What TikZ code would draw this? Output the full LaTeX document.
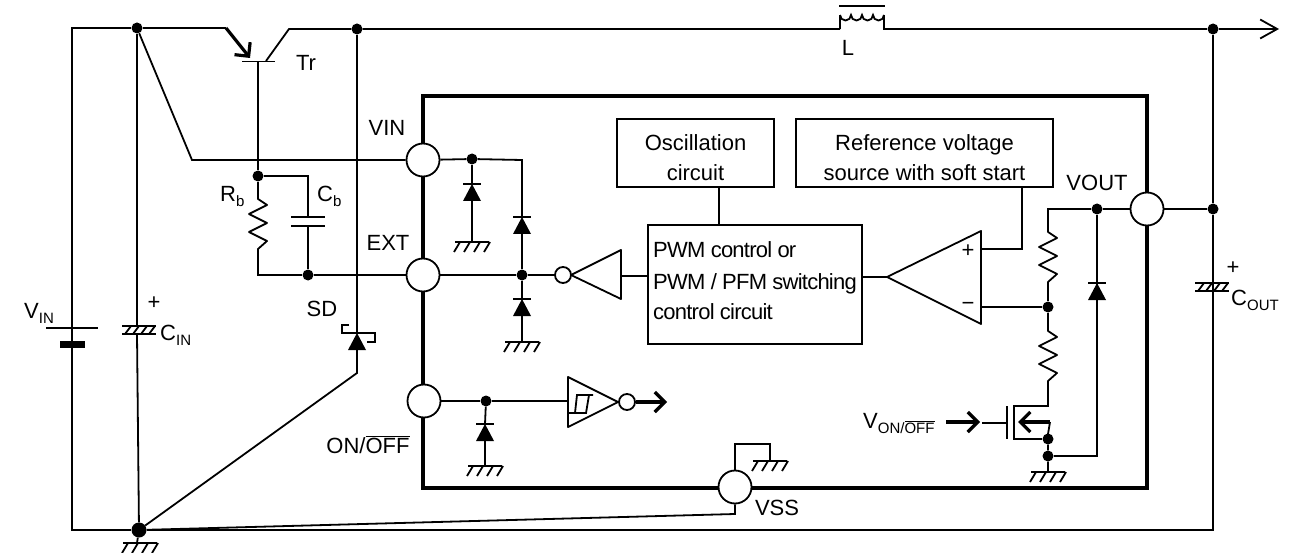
\documentclass[tikz,border=0pt]{standalone}
\usepackage{fontspec}
\setmainfont{Liberation Sans}
\newfontfamily\tightfont[LetterSpace=-3.5]{Liberation Sans}
\usetikzlibrary{arrows.meta}
\newcommand{\lowtext}[1]{\raisebox{-5pt}{\fontsize{15}{15}\selectfont #1}}
\newcommand{\offbar}{$\overline{\hbox{OFF}}$}
\tikzset{
  wire/.style={line width=1.8pt},
  heavy/.style={line width=3.4pt},
  thickarrow/.style={line width=3.2pt,-{Straight Barb[length=10pt,width=20pt,line width=3.2pt]}},
  dotnode/.style={circle,fill=black,inner sep=0pt,minimum size=11pt},
  pinnode/.style={circle,draw,fill=white,line width=1.8pt,inner sep=0pt,minimum size=33pt},
  bubble/.style={circle,draw,fill=white,line width=1.8pt,inner sep=0pt,minimum size=16pt},
  boxnode/.style={draw,line width=1.8pt,inner sep=0pt},
  textnode/.style={inner sep=0pt,align=center},
  gnd/.pic={
    \draw[wire] (-17,0) -- (17,0);
    \foreach \i in {-11,-1,9,19} \draw[wire] (\i-1,0) -- (\i-7,10);
  },
  diode/.pic={
    \draw[wire] (-9,0) -- (9,0);
    \fill (0,0) -- (9,17) -- (-9,17) -- cycle;
  },
  zigzag/.pic={
    \draw[wire,line join=round] (0,0) -- (0,7) -- (9,13) -- (-9,22) -- (9,31) -- (-9,40) -- (9,49) -- (0,57) -- (0,58);
  },
  polarcap/.pic={
    \draw[wire] (-17,0) -- (17,0) (-17,8) -- (17,8);
    \foreach \i in {-9,-1,7,15} \draw[wire] (\i+1,0) -- (\i-5,8);
  }
}
\begin{document}
\begin{tikzpicture}[x=1pt,y=-1pt,font=\fontsize{22}{30}\selectfont]
  \useasboundingbox (0,0) rectangle (1289,553);
  % chip outline
  \draw[heavy,line join=miter] (423,96) rectangle (1147,488);

  \node[dotnode] (vindot) at (137,28) {};
  \node[dotnode] (swdot) at (357,29) {};
  \node[dotnode] (outdot) at (1213,29) {};
  \node[dotnode] (basedot) at (258,176) {};
  \node[dotnode] (capdot) at (308,275) {};
  \node[dotnode] (feeddot) at (1213,209) {};
  \node[dotnode] (vindiodedot) at (472,159) {};
  \node[dotnode] (extdot) at (522,275) {};
  \node[dotnode] (ondot) at (486,401) {};
  \node[dotnode] (voutdot) at (1097,209) {};
  \node[dotnode] (divdot) at (1048,307) {};
  \node[dotnode] (srcdot) at (1048,439) {};
  \node[dotnode] (gnddot) at (1048,456) {};
  \node[dotnode,minimum size=15pt] (comdot) at (139,530) {};

  \node[pinnode] (vinpin) at (423,160) {};
  \node[pinnode] (extpin) at (423,275) {};
  \node[pinnode] (onpin) at (424,401) {};
  \node[pinnode] (vsspin) at (735,487) {};
  \node[pinnode] (voutpin) at (1147,209) {};

  \node[boxnode,minimum width=157pt,minimum height=68pt] (oscbox) at (695.5,153) {};
  \node[boxnode,minimum width=257pt,minimum height=68pt] (refbox) at (924.5,153) {};
  \node[boxnode,minimum width=214pt,minimum height=119pt] (pwmbox) at (755,284.5) {};
  \node[textnode] (osctext) at (695.5,158) {Oscillation\\circuit};
  \node[textnode] (reftext) at (924.5,158) {Reference voltage\\source with soft start};
  \node[textnode,anchor=base west,align=left,font=\tightfont\fontsize{22}{30.5}\selectfont] (pwmtext1) at (653,258) {PWM control or};
  \node[textnode,anchor=base west,align=left,font=\tightfont\fontsize{22}{30.5}\selectfont] (pwmtext2) at (653,289) {PWM / PFM switching};
  \node[textnode,anchor=base west,align=left,font=\tightfont\fontsize{22}{30.5}\selectfont] (pwmtext3) at (653,319) {control circuit};

  % outer wiring
  \coordinate (emit) at (226,28);
  \coordinate (emitend) at (250,58);
  \coordinate (collstart) at (266,61);
  \coordinate (collend) at (289,29);
  \coordinate (coilin) at (840,29);
  \coordinate (coilout) at (884,29);
  \coordinate (outend) at (1279,29);
  \coordinate (railtl) at (72,28);
  \coordinate (railbl) at (72,530);
  \coordinate (railbr) at (1213,530);
  \coordinate (vinbend) at (192,160);
  \coordinate (vsscorner) at (735,514);
  \coordinate (sdend) at (357,373);

  \draw[wire] (emit) -- (vindot) -- (railtl) -- (railbl) -- (comdot) -- (railbr) -- (feeddot);
  \draw[wire] (feeddot) -- (outdot) (feeddot) -- (voutpin);
  \draw[thickarrow] (emit) -- (emitend);
  \draw[wire] (242,61.5) coordinate (basel) -- (275,61.5) coordinate (baser);
  \draw[wire] (collstart) -- (collend) -- (swdot) -- (coilin);
  \draw[wire] (coilin) -- (840,15) (884,15) -- (coilout) -- (outdot);
  \draw[wire] (840,15) arc (180:0:5.5) arc (180:0:5.5) arc (180:0:5.5) arc (180:0:5.5);
  \draw[wire] (839,6) -- (885,6);
  \draw[wire,-{Straight Barb[length=17pt,width=19pt,line width=1.8pt]}] (outdot) -- (outend);
  \draw[wire] (vindot) -- (vinbend) -- (vinpin);
  \draw[wire] (258,61.5) -- (basedot);
  \draw[wire] (basedot) -- (258,192);
  \pic at (258,192) {zigzag};
  \draw[wire] (258,250) -- (258,275) -- (capdot) -- (extpin);
  \draw[wire] (basedot) -| (308,217);
  \draw[wire] (291,217) -- (325,217) (291,226) -- (325,226);
  \draw[wire] (308,226) -- (capdot);
  \draw[wire] (swdot) -- (357,333);
  \pic at (357,333) {diode};
  \draw[wire] (349,325) -- (342,325) -- (342,333) -- (375,333) -- (375,342) -- (367,342);
  \draw[wire] (357,350) -- (sdend) -- (comdot);
  \draw[wire] (vsspin) -- (vsscorner) -- (comdot);
  \draw[wire] (vsspin) -- (735,444) -| (770,461);
  \pic at (770,461) {gnd};
  \draw[wire] (vindot) -- (137,326);
  \pic at (139,326) {polarcap};
  \draw[wire] (137,334) -- (comdot);
  \draw[wire] (comdot) -- (137,543);
  \pic at (140,543) {gnd};
  \fill (60,341) rectangle (85,348);
  \draw[wire] (46,328) -- (98,328);
  \draw[wire] (outdot) -- (feeddot) -- (1213,283);
  \pic at (1212,283) {polarcap};

  % input side
  \draw[wire] (vinpin) -- (vindiodedot) -- (522,160) -- (522,217);
  \pic at (522,217) {diode};
  \draw[wire] (522,234) -- (extdot) -- (522,299);
  \pic at (522,299) {diode};
  \draw[wire] (522,316) -- (522,342);
  \pic at (522,342) {gnd};
  \draw[wire] (vindiodedot) -- (472,184);
  \pic at (472,184) {diode};
  \draw[wire] (472,201) -- (472,242);
  \pic at (472,242) {gnd};
  \draw[wire] (extpin) -- (extdot) -- (555,275);
  \node[bubble] (invbubble) at (563,275) {};
  \draw[wire,line join=round] (621,250) -- (621,299) -- (571,275) -- cycle;
  \draw[wire] (621,276) -- (648,276);
  \draw[wire] (onpin) -- (ondot) -- (568,401);
  \draw[wire] (ondot) -- (485,424);
  \pic at (485,424) {diode};
  \draw[wire] (485,441) -- (485,466);
  \pic at (485,466) {gnd};
  \draw[wire,line join=round] (568,377) -- (568,427) -- (618,402) -- cycle;
  \draw[wire] (568,413) -- (586,413) -- (589,395) -- (593,395) (575,413) -- (577,395) -- (589,395);
  \node[bubble] (onbubble) at (627,402) {};
  \draw[thickarrow] (onbubble) -- (667,402);

  % output side
  \draw[wire] (719,187) -- (719,225);
  \draw[wire,line join=round] (981,231) -- (981,324) -- (887,277) -- cycle;
  \draw[wire] (pwmbox.east |- 0,277) -- (887,277);
  \draw[wire] (981,249) -| (1022,187);
  \draw[wire] (981,307) -- (divdot);
  \draw[wire] (voutpin) -- (voutdot) -- (1048,209) -- (1048,225);
  \pic at (1048,225) {zigzag};
  \draw[wire] (1048,283) -- (divdot) -- (1048,324);
  \pic at (1048,324) {zigzag};
  \draw[wire] (1048,382) -- (1048,406) -- (1014,406) -- (1014,439) -- (srcdot);
  \draw[wire] (1007,406) -- (1007,439);
  \draw[wire] (982,423) -- (1007,423);
  \draw[thickarrow] (946,422) -- (980,422);
  \draw[thickarrow] (1050,422) -- (1018,422);
  \draw[wire] (1050,422) -- (1048,434) -- (srcdot) -- (gnddot) -- (1048,472);
  \pic at (1048,472) {gnd};
  \draw[wire] (gnddot) -- (1097,456) -- (1097,283);
  \pic at (1097,283) {diode};
  \draw[wire] (1097,283) -- (voutdot);

  % labels
  \node[inner sep=0pt] (trlabel) at (306,63) {Tr};
  \node[inner sep=0pt] (llabel) at (848,48) {L};
  \node[inner sep=0pt] (vinlabel) at (387,128) {VIN};
  \node[inner sep=0pt] (extlabel) at (388,243) {EXT};
  \node[inner sep=0pt] (sdlabel) at (322,309) {SD};
  \node[inner sep=0pt] (vouttext) at (1097,183) {VOUT};
  \node[inner sep=0pt] (vsslabel) at (777,508) {VSS};
  \node[inner sep=0pt,anchor=base] (onlabel) at (368,453) {ON/\offbar};
  \node[inner sep=0pt,anchor=base west] (rblabel) at (220,202) {R\lowtext{b}};
  \node[inner sep=0pt,anchor=base west] (cblabel) at (317,202) {C\lowtext{b}};
  \node[inner sep=0pt,anchor=base west] (cinlabel) at (160,340) {C\lowtext{IN}};
  \node[inner sep=0pt,anchor=base west] (coutlabel) at (1231,305) {C\lowtext{OUT}};
  \node[inner sep=0pt,anchor=base west] (vinsrc) at (24,318) {V\lowtext{IN}};
  \node[inner sep=0pt,anchor=base west] (vonlabel) at (863,428) {V\lowtext{ON/\offbar}};
  \node[inner sep=0pt] (cinplus) at (154,303) {+};
  \node[inner sep=0pt] (coutplus) at (1233,268) {+};
  \node[inner sep=0pt] (ampplus) at (968,251) {+};
  \node[inner sep=0pt] (ampminus) at (968,306) {−};
\end{tikzpicture}
\end{document}
